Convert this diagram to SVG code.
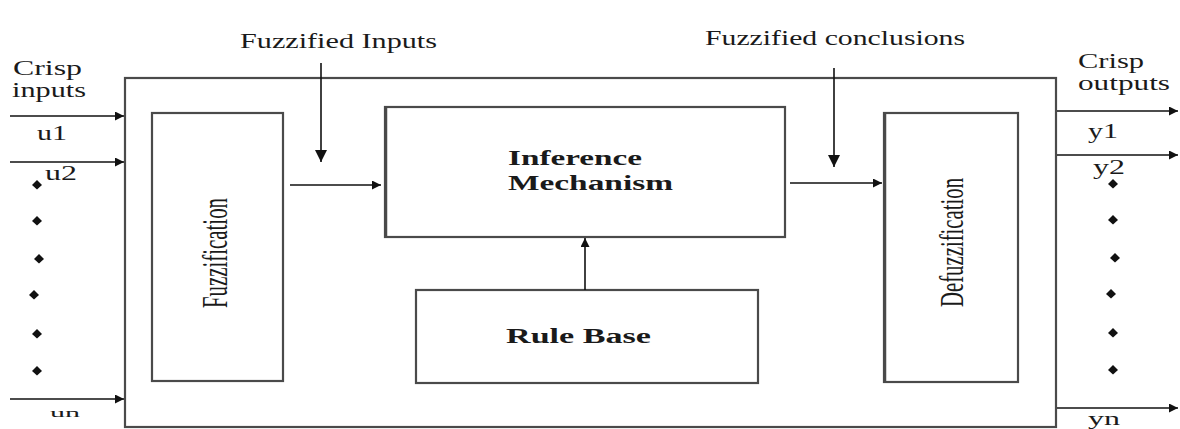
<svg xmlns="http://www.w3.org/2000/svg" width="1180" height="429" viewBox="0 0 1180 429">
<style>
.box{fill:none;stroke:#4a4a4a;stroke-width:2.2}
.ln{stroke:#111;stroke-width:1.6;fill:none}
text{font-family:"Liberation Serif","Times New Roman","DejaVu Serif",serif;fill:#1a1a1a}
.b{font-weight:bold}
</style>
<defs>
<marker id="ah" viewBox="0 0 10 10" refX="10" refY="5" markerWidth="12" markerHeight="9" markerUnits="userSpaceOnUse" orient="auto">
<path d="M0,0 L10,5 L0,10 z" fill="#111"/>
</marker>
<marker id="ahb" viewBox="0 0 10 10" refX="10" refY="5" markerWidth="12" markerHeight="12" markerUnits="userSpaceOnUse" orient="auto">
<path d="M0,0 L10,5 L0,10 z" fill="#111"/>
</marker>
</defs>
<rect width="1180" height="429" fill="#fff"/>
<g id="system"><rect class="box" x="125" y="78" width="931" height="349" stroke-width="2.6"/></g>
<g id="fuzzification">
<rect class="box" x="152" y="113" width="131" height="268"/>
<text font-family="Liberation Serif, serif" transform="translate(227,308) rotate(-90)" font-size="36" textLength="110" lengthAdjust="spacingAndGlyphs">Fuzzification</text>
</g>
<g id="inference">
<rect class="box" x="385" y="107" width="400" height="130"/>
<line x1="386.5" y1="107" x2="386.5" y2="237" stroke="#4a4a4a" stroke-width="1.5"/>
<text class="b" font-family="Liberation Serif, serif" x="508" y="165" font-size="20" textLength="134" lengthAdjust="spacingAndGlyphs">Inference</text>
<text class="b" font-family="Liberation Serif, serif" x="508" y="190" font-size="20" textLength="165" lengthAdjust="spacingAndGlyphs">Mechanism</text>
</g>
<g id="rulebase">
<rect class="box" x="416" y="290" width="342" height="93"/>
<text class="b" font-family="Liberation Serif, serif" x="506" y="343" font-size="20" textLength="145" lengthAdjust="spacingAndGlyphs">Rule Base</text>
</g>
<g id="defuzzification">
<rect class="box" x="884" y="113" width="134" height="269"/>
<line x1="885.5" y1="113" x2="885.5" y2="382" stroke="#4a4a4a" stroke-width="1.5"/>
<text font-family="Liberation Serif, serif" transform="translate(963,307) rotate(-90)" font-size="34" textLength="129" lengthAdjust="spacingAndGlyphs">Defuzzification</text>
</g>
<g id="connectors">
<line class="ln" x1="10" y1="116" x2="124" y2="116" marker-end="url(#ah)"/>
<line class="ln" x1="10" y1="162" x2="124" y2="162" marker-end="url(#ah)"/>
<line class="ln" x1="10" y1="399" x2="124" y2="399" marker-end="url(#ah)"/>
<line class="ln" x1="1057" y1="111" x2="1178" y2="111" marker-end="url(#ah)"/>
<line class="ln" x1="1057" y1="155" x2="1178" y2="155" marker-end="url(#ah)"/>
<line class="ln" x1="1057" y1="408" x2="1178" y2="408" marker-end="url(#ah)"/>
<line class="ln" x1="290" y1="185" x2="381" y2="185" marker-end="url(#ah)"/>
<line class="ln" x1="790" y1="183" x2="882" y2="183" marker-end="url(#ah)"/>
<line class="ln" x1="321" y1="63" x2="321" y2="162" stroke-width="2" marker-end="url(#ahb)"/>
<line class="ln" x1="834" y1="68" x2="834" y2="167" stroke-width="2" marker-end="url(#ahb)"/>
<line class="ln" x1="585" y1="290" x2="585" y2="238" stroke-width="2.2" marker-end="url(#ah)"/>
</g>
<g id="labels" font-family="Liberation Serif, serif">
<text x="240" y="48" font-size="20" textLength="197" lengthAdjust="spacingAndGlyphs">Fuzzified Inputs</text>
<text x="705" y="45" font-size="20" textLength="260" lengthAdjust="spacingAndGlyphs">Fuzzified conclusions</text>
<text x="13" y="75" font-size="20" textLength="69" lengthAdjust="spacingAndGlyphs">Crisp</text>
<text x="12" y="97" font-size="20" textLength="74" lengthAdjust="spacingAndGlyphs">inputs</text>
<text x="37" y="140" font-size="20" textLength="30" lengthAdjust="spacingAndGlyphs">u1</text>
<text x="45" y="180" font-size="20" textLength="32" lengthAdjust="spacingAndGlyphs">u2</text>
<text x="50" y="417" font-size="13" textLength="30" lengthAdjust="spacingAndGlyphs">un</text>
<text x="1078" y="68" font-size="20" textLength="66" lengthAdjust="spacingAndGlyphs">Crisp</text>
<text x="1078" y="90" font-size="20" textLength="92" lengthAdjust="spacingAndGlyphs">outputs</text>
<text x="1088" y="138" font-size="20" textLength="30" lengthAdjust="spacingAndGlyphs">y1</text>
<text x="1093" y="174" font-size="20" textLength="32" lengthAdjust="spacingAndGlyphs">y2</text>
<text x="1088" y="425" font-size="18" textLength="32" lengthAdjust="spacingAndGlyphs">yn</text>
</g>
<g id="dots" fill="#111">
<path d="M37,180 l5,5 l-5,4.5 l-5,-4.5 z"/>
<path d="M37,216 l5,5 l-5,4.5 l-5,-4.5 z"/>
<path d="M39,254 l5,5 l-5,4.5 l-5,-4.5 z"/>
<path d="M34,290 l5,5 l-5,4.5 l-5,-4.5 z"/>
<path d="M37,329 l5,5 l-5,4.5 l-5,-4.5 z"/>
<path d="M37,366 l5,5 l-5,4.5 l-5,-4.5 z"/>
<path d="M1113,179 l5,5 l-5,4.5 l-5,-4.5 z"/>
<path d="M1113,215 l5,5 l-5,4.5 l-5,-4.5 z"/>
<path d="M1115,253 l5,5 l-5,4.5 l-5,-4.5 z"/>
<path d="M1111,289 l5,5 l-5,4.5 l-5,-4.5 z"/>
<path d="M1113,328 l5,5 l-5,4.5 l-5,-4.5 z"/>
<path d="M1113,365 l5,5 l-5,4.5 l-5,-4.5 z"/>
</g>
</svg>
